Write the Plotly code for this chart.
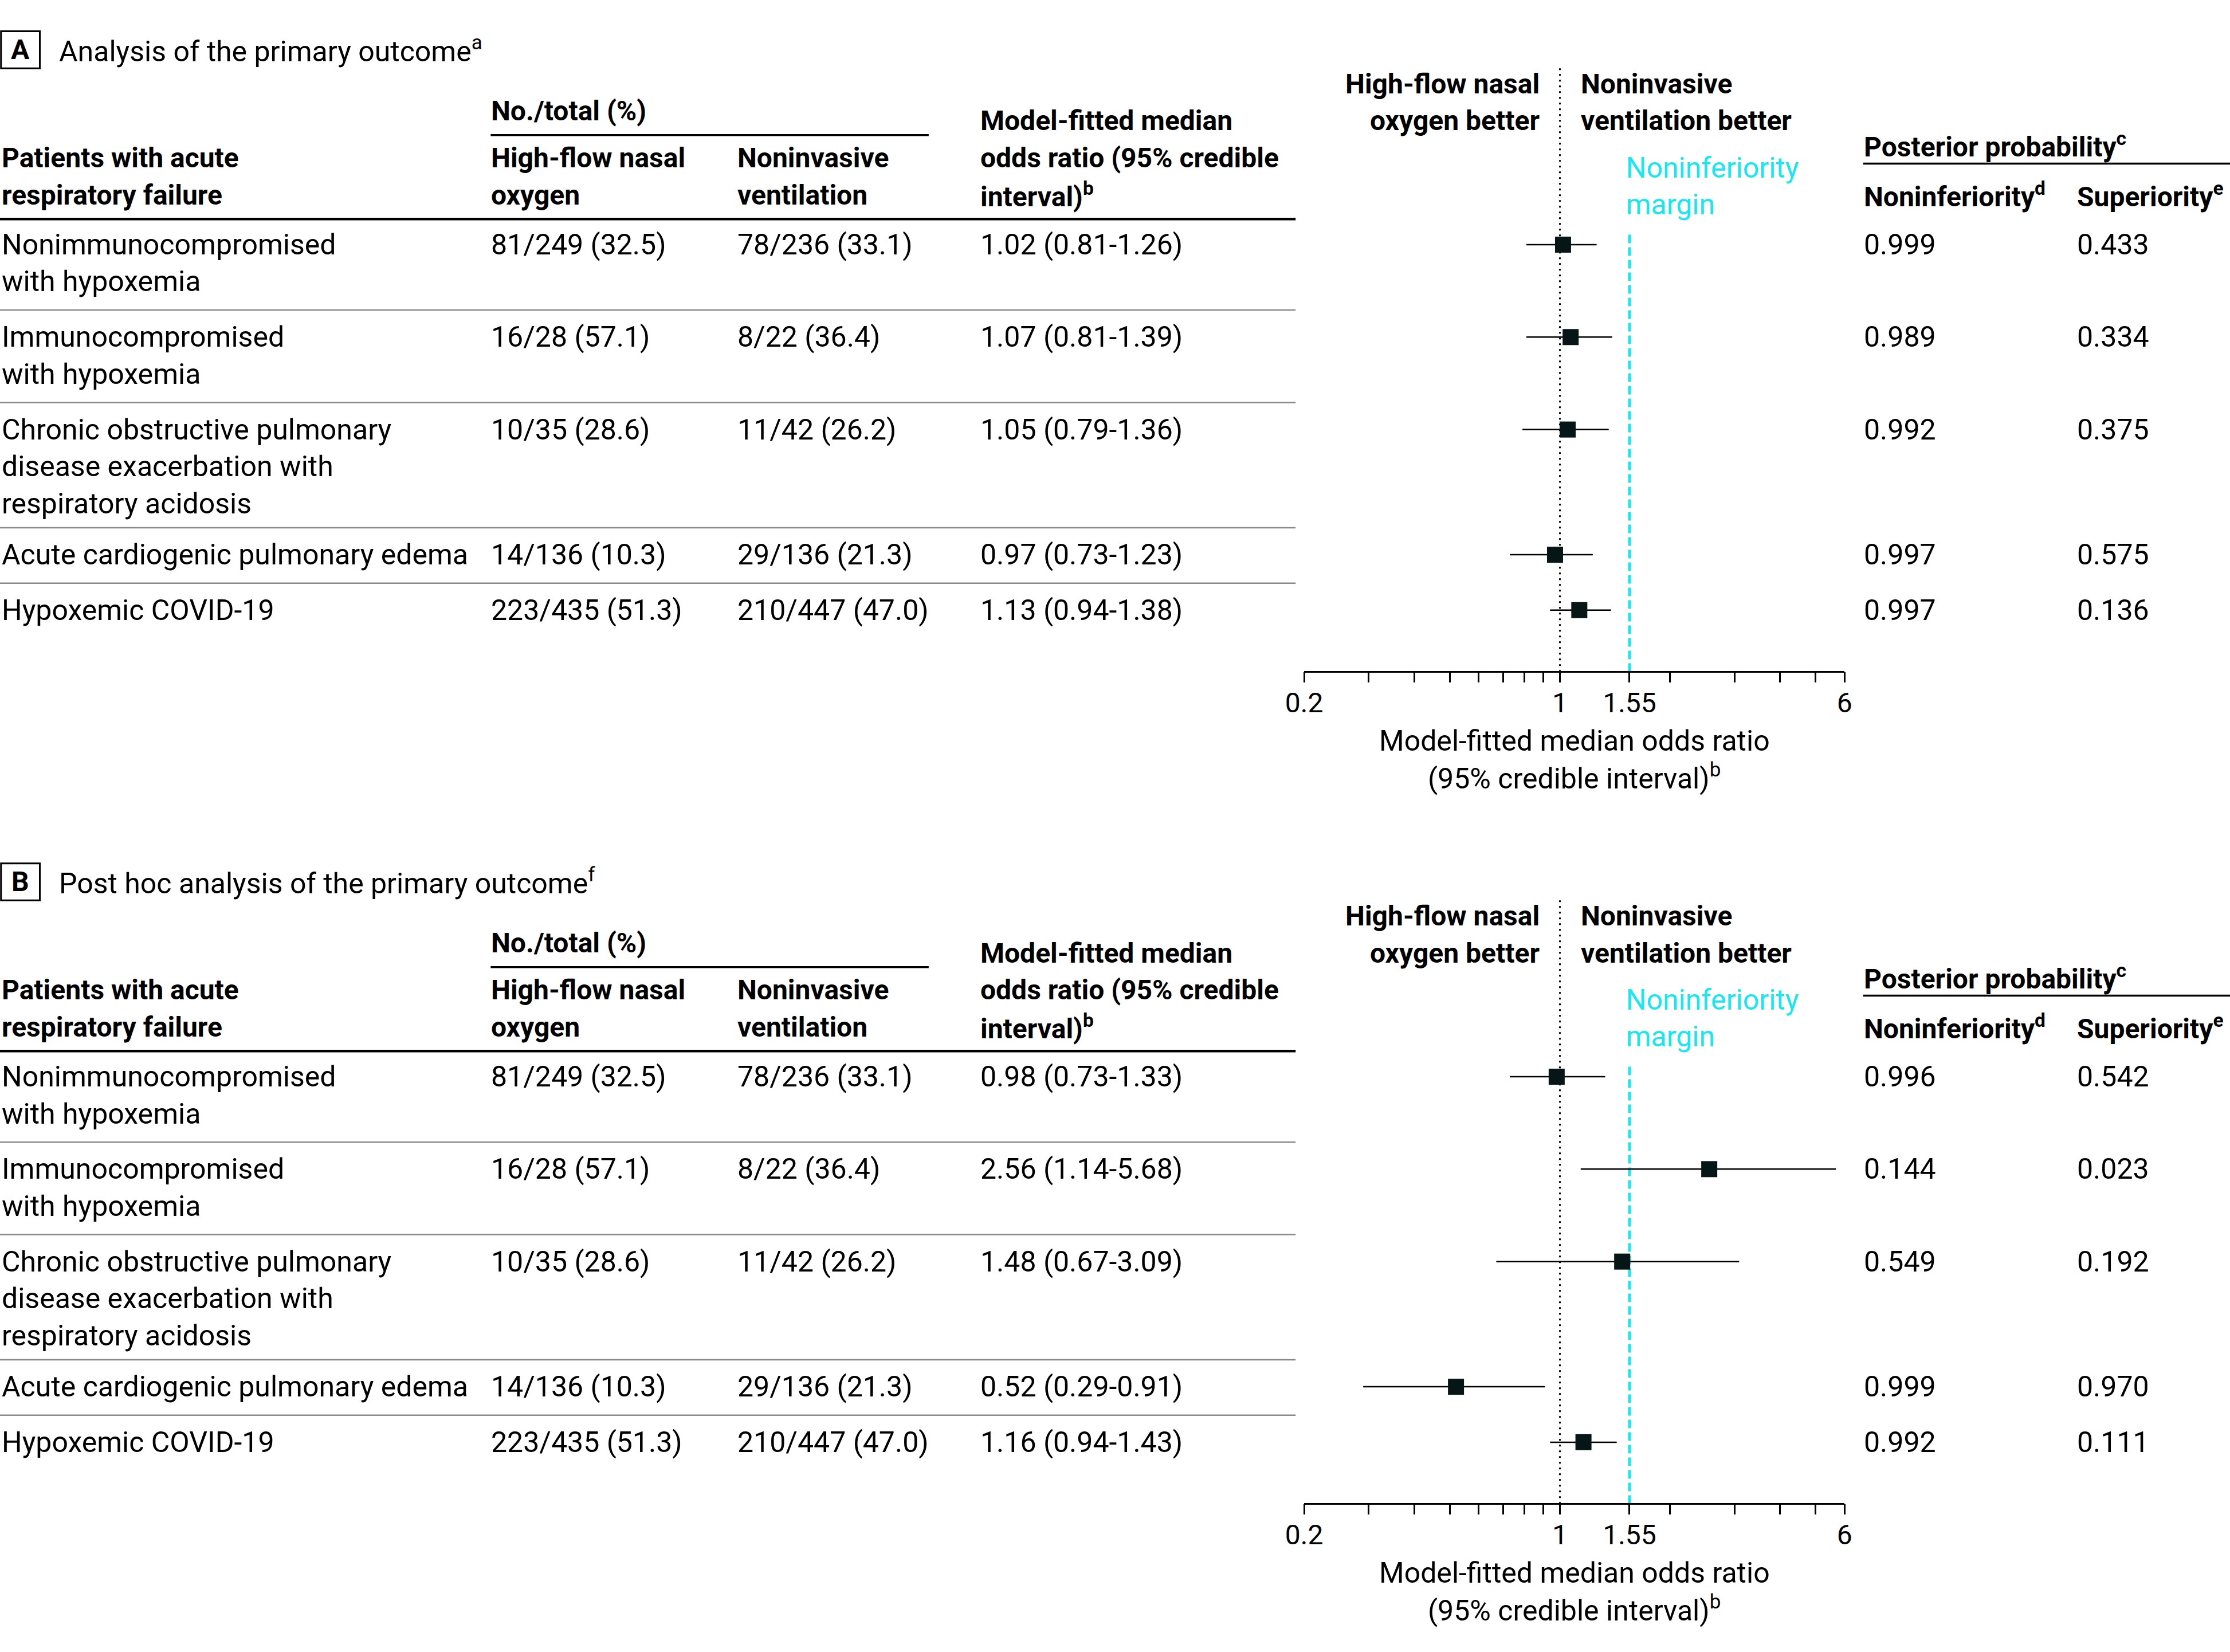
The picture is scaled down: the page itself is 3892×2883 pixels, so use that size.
import math
import plotly.graph_objects as go

# ---------------- data ----------------
categories = [
    ["Nonimmunocompromised", "with hypoxemia"],
    ["Immunocompromised", "with hypoxemia"],
    ["Chronic obstructive pulmonary", "disease exacerbation with", "respiratory acidosis"],
    ["Acute cardiogenic pulmonary edema"],
    ["Hypoxemic COVID-19"],
]
hfno_events = [81, 16, 10, 14, 223]
hfno_total = [249, 28, 35, 136, 435]
hfno_pct = [32.5, 57.1, 28.6, 10.3, 51.3]
niv_events = [78, 8, 11, 29, 210]
niv_total = [236, 22, 42, 136, 447]
niv_pct = [33.1, 36.4, 26.2, 21.3, 47.0]

a_or = [1.02, 1.07, 1.05, 0.97, 1.13]
a_lo = [0.81, 0.81, 0.79, 0.73, 0.94]
a_hi = [1.26, 1.39, 1.36, 1.23, 1.38]
a_noninf = [0.999, 0.989, 0.992, 0.997, 0.997]
a_sup = [0.433, 0.334, 0.375, 0.575, 0.136]

b_or = [0.98, 2.56, 1.48, 0.52, 1.16]
b_lo = [0.73, 1.14, 0.67, 0.29, 0.94]
b_hi = [1.33, 5.68, 3.09, 0.91, 1.43]
b_noninf = [0.996, 0.144, 0.549, 0.999, 0.992]
b_sup = [0.542, 0.023, 0.192, 0.970, 0.111]

noninferiority_margin = 1.55
major_ticks = [0.2, 1, 1.55, 6]
major_labels = ["0.2", "1", "1.55", "6"]
minor_ticks = [0.3, 0.4, 0.5, 0.6, 0.7, 0.8, 0.9, 2, 3, 4, 5]
x_min, x_max = 0.2, 6

# ---------------- layout constants ----------------
W, H = 3892, 2883
S = W / 1568.0  # reference design units -> pixels

FONT = "Roboto, Liberation Sans, sans-serif"
FS = 50
FSB = 48
BLACK = "#000000"
CYAN = "#17E6F3"
MARK = "#061616"
GRAY = "#8a8a8a"

ROW_Y = [172, 237, 302, 390, 429]      # first text line of each row (design units)
SEP_Y = [218, 283, 371, 410]
LINE_H = 26
COL_X = [1, 345, 518, 689]
PP_X = [1310, 1460]
AX_X0, AX_X1 = 917, 1297
AX_Y = 472

fig = go.Figure()


def px(d):
    return d * S


def pxp(d):
    return d * S / W


def pyp(d):
    return 1 - d * S / H


def txt(x, y, text, bold=False, color=BLACK, xanchor="left", size=None):
    if size is None:
        size = FSB if bold else FS
    if bold:
        text = "<b>" + text + "</b>"
    fig.add_annotation(x=pxp(x), y=pyp(y), xref="paper", yref="paper", text=text,
                       showarrow=False, xanchor=xanchor, yanchor="middle",
                       font=dict(family=FONT, size=size, color=color), borderpad=0)


def hline(x0, x1, y, width, color=BLACK):
    fig.add_shape(type="line", xref="paper", yref="paper", x0=pxp(x0), x1=pxp(x1),
                  y0=pyp(y), y1=pyp(y), line=dict(color=color, width=width))


panels = [
    dict(letter="A", title="Analysis of the primary outcome", fn="a", off=0, xa="x",
         orv=a_or, lo=a_lo, hi=a_hi, ni=a_noninf, su=a_sup),
    dict(letter="B", title="Post hoc analysis of the primary outcome", fn="f", off=585, xa="x2",
         orv=b_or, lo=b_lo, hi=b_hi, ni=b_noninf, su=b_sup),
]

for p in panels:
    o = p["off"]
    # panel label
    fig.add_shape(type="rect", xref="paper", yref="paper", x0=pxp(0.7), x1=pxp(28), y0=pyp(22 + o), y1=pyp(48 + o),
                  line=dict(color=BLACK, width=3))
    txt(14.3, 35 + o, p["letter"], bold=True, xanchor="center")
    txt(41, 35 + o, p["title"] + "<sup>" + p["fn"] + "</sup>")

    # table header
    txt(345, 78 + o, "No./total (%)", bold=True)
    hline(345, 653, 95 + o, 3.5)
    txt(1, 111 + o, "Patients with acute", bold=True)
    txt(1, 137 + o, "respiratory failure", bold=True)
    txt(345, 111 + o, "High-flow nasal", bold=True)
    txt(345, 137 + o, "oxygen", bold=True)
    txt(518, 111 + o, "Noninvasive", bold=True)
    txt(518, 137 + o, "ventilation", bold=True)
    txt(689, 85 + o, "Model-fitted median", bold=True)
    txt(689, 111 + o, "odds ratio (95% credible", bold=True)
    txt(689, 137 + o, "interval)<sup>b</sup>", bold=True)
    hline(0, 911, 154 + o, 4.5)
    for sy in SEP_Y:
        hline(0, 911, sy + o, 2.5, GRAY)

    # forest header
    txt(1083, 59 + o, "High-flow nasal", bold=True, xanchor="right")
    txt(1083, 85 + o, "oxygen better", bold=True, xanchor="right")
    txt(1111, 59 + o, "Noninvasive", bold=True)
    txt(1111, 85 + o, "ventilation better", bold=True)
    txt(1143, 118 + o, "Noninferiority", color=CYAN)
    txt(1143, 144 + o, "margin", color=CYAN)

    # posterior header
    txt(1310, 102 + o, "Posterior probability<sup>c</sup>", bold=True)
    hline(1310, 1568, 115 + o, 3.5)
    txt(1310, 137 + o, "Noninferiority<sup>d</sup>", bold=True)
    txt(1460, 137 + o, "Superiority<sup>e</sup>", bold=True)

    # rows
    for i, lines in enumerate(categories):
        y0 = ROW_Y[i] + o
        for k, ln in enumerate(lines):
            txt(COL_X[0], y0 + k * LINE_H, ln)
        txt(COL_X[1], y0, f"{hfno_events[i]}/{hfno_total[i]} ({hfno_pct[i]:.1f})")
        txt(COL_X[2], y0, f"{niv_events[i]}/{niv_total[i]} ({niv_pct[i]:.1f})")
        txt(COL_X[3], y0, f"{p['orv'][i]:.2f} ({p['lo'][i]:.2f}-{p['hi'][i]:.2f})")
        txt(PP_X[0], y0, f"{p['ni'][i]:.3f}")
        txt(PP_X[1], y0, f"{p['su'][i]:.3f}")

    # axis title
    txt(1107, 521 + o, "Model-fitted median odds ratio", xanchor="center")
    txt(1107, 546 + o, "(95% credible interval)<sup>b</sup>", xanchor="center")

    # reference lines (data coords)
    fig.add_trace(go.Scatter(x=[1, 1], y=[px(48 + o), px(AX_Y + o)], mode="lines", xaxis=p["xa"], yaxis="y",
                             line=dict(color=BLACK, width=3, dash="3px,7px"), hoverinfo="skip"))
    fig.add_trace(go.Scatter(x=[noninferiority_margin] * 2, y=[px(165 + o), px(AX_Y + o)], mode="lines",
                             xaxis=p["xa"], yaxis="y",
                             line=dict(color=CYAN, width=5, dash="15px,7px"), hoverinfo="skip"))
    # estimates
    fig.add_trace(go.Scatter(
        x=p["orv"], y=[px(r + o) for r in ROW_Y], mode="markers", xaxis=p["xa"], yaxis="y",
        marker=dict(symbol="square", size=28, color=MARK, line=dict(width=0)),
        error_x=dict(type="data", symmetric=False,
                     array=[h - m for h, m in zip(p["hi"], p["orv"])],
                     arrayminus=[m - l for m, l in zip(p["orv"], p["lo"])],
                     color=BLACK, thickness=2.5, width=0),
    ))

axis_common = dict(
    type="log", range=[math.log10(x_min), math.log10(x_max)], domain=[pxp(AX_X0), pxp(AX_X1)],
    anchor="free", showline=True, linecolor=BLACK, linewidth=2.5, ticks="outside", ticklen=18,
    tickwidth=2.5, tickcolor=BLACK, tickmode="array", tickvals=major_ticks, ticktext=major_labels,
    minor=dict(tickmode="array", tickvals=minor_ticks, ticks="outside", ticklen=18, tickwidth=2.5,
               tickcolor=BLACK, showgrid=False),
    tickfont=dict(family=FONT, size=48, color=BLACK), showgrid=False, zeroline=False, fixedrange=True,
    side="bottom", automargin=False, ticklabelstandoff=-6,
)
fig.update_layout(
    template="none",
    width=W, height=H, margin=dict(l=0, r=0, t=0, b=0, pad=0, autoexpand=False),
    paper_bgcolor="white", plot_bgcolor="rgba(0,0,0,0)", showlegend=False,
    xaxis=dict(**axis_common, position=pyp(AX_Y)),
    xaxis2=dict(**axis_common, position=pyp(AX_Y + 585)),
    yaxis=dict(range=[H, 0], domain=[0, 1], visible=False, fixedrange=True, automargin=False),
)

fig.write_html("out.html", config={"displayModeBar": False},
               post_script="document.body.style.margin='0px';")
